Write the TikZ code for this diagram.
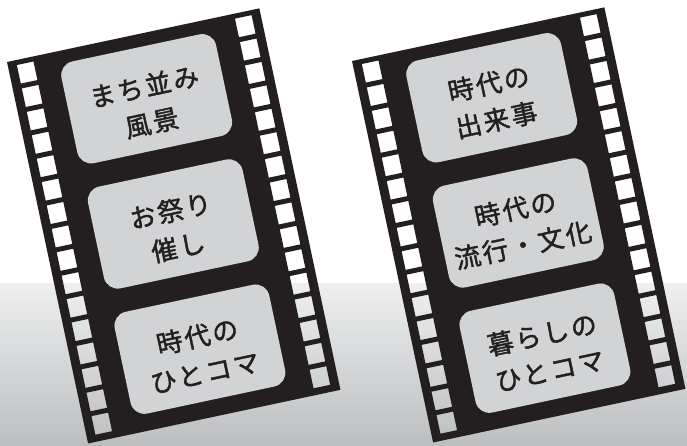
\documentclass[tikz,border=0pt]{standalone}
\usepackage{fontspec}
\usepackage{xcolor}
\usepackage{tikz}
\usetikzlibrary{
	calc,
	positioning
	}
\newfontfamily\jpfont[FakeBold=1.6,LetterSpace=9]{Noto Sans CJK JP}
\definecolor{noirfilm}{HTML}{231F20}
\definecolor{grisvue}{HTML}{D1D3D4}
\definecolor{grisfond}{HTML}{BCBEC0}
\tikzstyle{pellicule}=[fill=noirfilm,even odd rule]
\tikzstyle{cadre-std}=[fill=grisvue,rounded corners=14pt,minimum width=158pt,minimum height=104pt,inner sep=0pt]
\tikzstyle{texte-std}=[font=\jpfont\fontsize{26}{37}\selectfont,align=center,text=noirfilm,inner sep=0pt]

\begin{document}
\begin{tikzpicture}[x=1pt,y=1pt]
\useasboundingbox (0,0) rectangle (687,445);
\fill[white] (0,0) rectangle (687,445);
\shade[top color=grisfond!25!white,bottom color=grisfond] (0,0) rectangle (687,162);

\begin{scope}[shift={(7,383)},rotate=12,transform shape]
\fill[pellicule] (0,0) rectangle (258,-390)
	\foreach \i in {0,...,15} { (9,{-5-23.93*\i}) rectangle ++(17,-19) (232,{-5-23.93*\i}) rectangle ++(17,-19) };
\node[cadre-std] (cadreA1) at (129,-65) {};
\node[cadre-std] (cadreA2) at (129,-193) {};
\node[cadre-std] (cadreA3) at (129,-321) {};
\node[texte-std] (texteA1) at (129,-71) {まち並み\\風景};
\node[texte-std] (texteA2) at (129,-198) {お祭り\\催し};
\node[texte-std] (texteA3) at (129,-326) {時代の\\ひとコマ};
\end{scope}

\begin{scope}[shift={(352,384)},rotate=12,transform shape]
\fill[pellicule] (0,0) rectangle (258,-390)
	\foreach \i in {0,...,15} { (9,{-5-23.93*\i}) rectangle ++(17,-19) (232,{-5-23.93*\i}) rectangle ++(17,-19) };
\node[cadre-std] (cadreB1) at (129,-65) {};
\node[cadre-std] (cadreB2) at (129,-193) {};
\node[cadre-std] (cadreB3) at (129,-321) {};
\node[texte-std] (texteB1) at (129,-69) {時代の\\出来事};
\node[texte-std] (texteB2) at (129,-197) {時代の\\流行・文化};
\node[texte-std] (texteB3) at (129,-325) {暮らしの\\ひとコマ};
\end{scope}
\end{tikzpicture}
\end{document}
